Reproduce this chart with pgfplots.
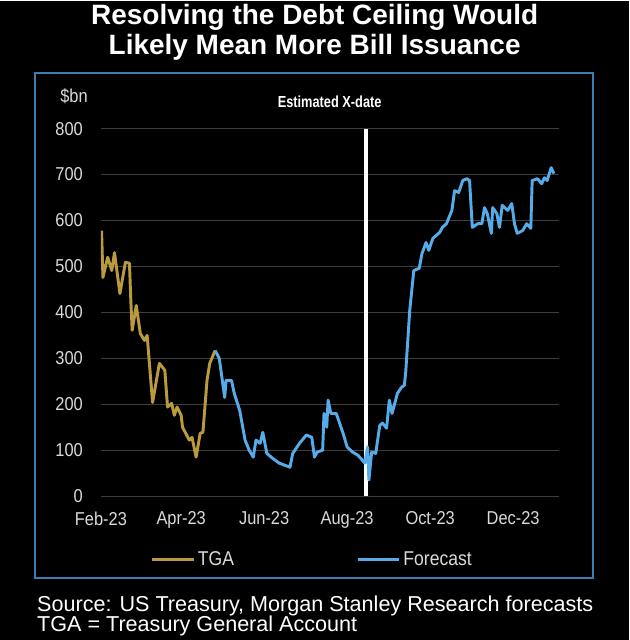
\documentclass[border=0pt]{standalone}
\usepackage{fontspec}
\setmainfont{Liberation Sans}
\newfontfamily\narrow[FakeStretch=0.88]{Liberation Sans}
\newfontfamily\xdatefont[FakeStretch=0.8]{Liberation Sans}
\usepackage{pgfplots}
\pgfplotsset{compat=1.18}
\definecolor{tga}{RGB}{186,154,62}
\definecolor{fc}{RGB}{85,172,232}
\definecolor{framec}{RGB}{60,125,180}
\definecolor{gridc}{RGB}{62,62,62}
\definecolor{tickc}{RGB}{218,218,218}
\begin{document}
\begin{tikzpicture}
\begin{scope}[x=0.75pt,y=-0.75pt]
\fill[black] (0,0) rectangle (630,640);
\draw[framec, line width=1.6pt] (35,72) rectangle (594,578);
\node[anchor=base, white, font=\bfseries\fontsize{21}{23}\selectfont] at (315,24) {Resolving the Debt Ceiling Would};
\node[anchor=base, white, font=\bfseries\fontsize{21}{23}\selectfont] at (315,54) {Likely Mean More Bill Issuance};
\node[anchor=base west, inner sep=0pt, white, font=\fontsize{16.2}{18}\selectfont] at (37,611) {Source: US Treasury, Morgan Stanley Research forecasts};
\node[anchor=base west, inner sep=0pt, white, font=\fontsize{16.2}{18}\selectfont] at (37,631) {TGA = Treasury General Account};
\node[anchor=east, inner sep=0pt, tickc, font=\narrow\fontsize{14}{16}\selectfont] at (88,96) {\$bn};
\node[white, inner sep=0pt, font=\xdatefont\bfseries\fontsize{12}{14}\selectfont] at (330,101) {Estimated X-date};
\end{scope}
\begin{axis}[
  at={(75.75pt,-372pt)}, anchor=south west,
  scale only axis, width=344.25pt, height=276pt,
  xmin=0, xmax=337, ymin=0, ymax=800,
  axis line style={draw=none},
  major tick length=0pt,
  ymajorgrids, grid style={gridc, line width=0.8pt},
  ytick={0,100,...,800},
  xtick={0,59,120,181,242,303},
  xticklabels={Feb-23,Apr-23,Jun-23,Aug-23,Oct-23,Dec-23},
  ticklabel style={tickc, font=\narrow\fontsize{14}{16}\selectfont},
  /pgf/number format/assume math mode=true,
  yticklabel style={xshift=-10pt},
  xticklabel style={yshift=-8pt},
  legend columns=2,
  legend cell align=left,
  legend image code/.code={\draw[#1] (0pt,0pt) -- (31pt,0pt);},
  legend style={at={(0.10,-0.172)}, anchor=west, draw=none, fill=none,
    text=tickc, font=\narrow\fontsize{15}{17}\selectfont,
    /tikz/every even column/.append style={column sep=90pt}},
]
\addplot[white, line width=3pt, forget plot] coordinates {(194.5,0) (194.5,800)};
\addplot[tga, line width=2.2pt, line join=round] coordinates {
(0.5,578) (1.5,476) (5,520) (8,491) (10,530) (14,441) (18,509) (21,507) (22,426) (23,361) (26,415) (29,354) (32,339) (34,350) (38,204) (43,289) (47,274) (49,194) (52,202) (54,176) (56,194) (59,176) (60,150) (65,122) (67,128) (70,85) (73,137) (75,139) (78,252) (80,289) (84,317)
};
\addlegendentry{TGA}
\addplot[fc, line width=2.2pt, line join=round] coordinates {
(84,317) (87,300) (91,215) (92,252) (96,252) (98,224) (102,187) (106,122) (109,100) (112,85) (114,122) (117,115) (119,139) (122,93) (126,83) (131,72) (139,63) (141,93) (146,115) (151,133) (155,128) (157,85) (159,96) (163,100) (164,180) (166,150) (167,209) (169,180) (173,180) (178,137) (181,107) (185,96) (189,89) (194,72) (196,107) (197,35) (199,96) (202,93) (205,154) (207,159) (210,148) (212,209) (214,180) (218,224) (221,237) (223,241) (224,267) (227,404) (230,491) (234,496) (236,528) (239,552) (241,535) (244,561) (249,574) (251,585) (254,593) (258,622) (260,665) (263,661) (266,687) (269,691) (271,687) (273,585) (277,593) (280,593) (282,628) (284,615) (287,572) (288,628) (291,615) (293,585) (295,633) (299,622) (302,637) (304,593) (306,572) (310,578) (313,593) (316,583) (317,687) (321,691) (324,680) (326,693) (328,687) (331,715) (333,702)
};
\addlegendentry{Forecast}
\end{axis}
\end{tikzpicture}
\end{document}
